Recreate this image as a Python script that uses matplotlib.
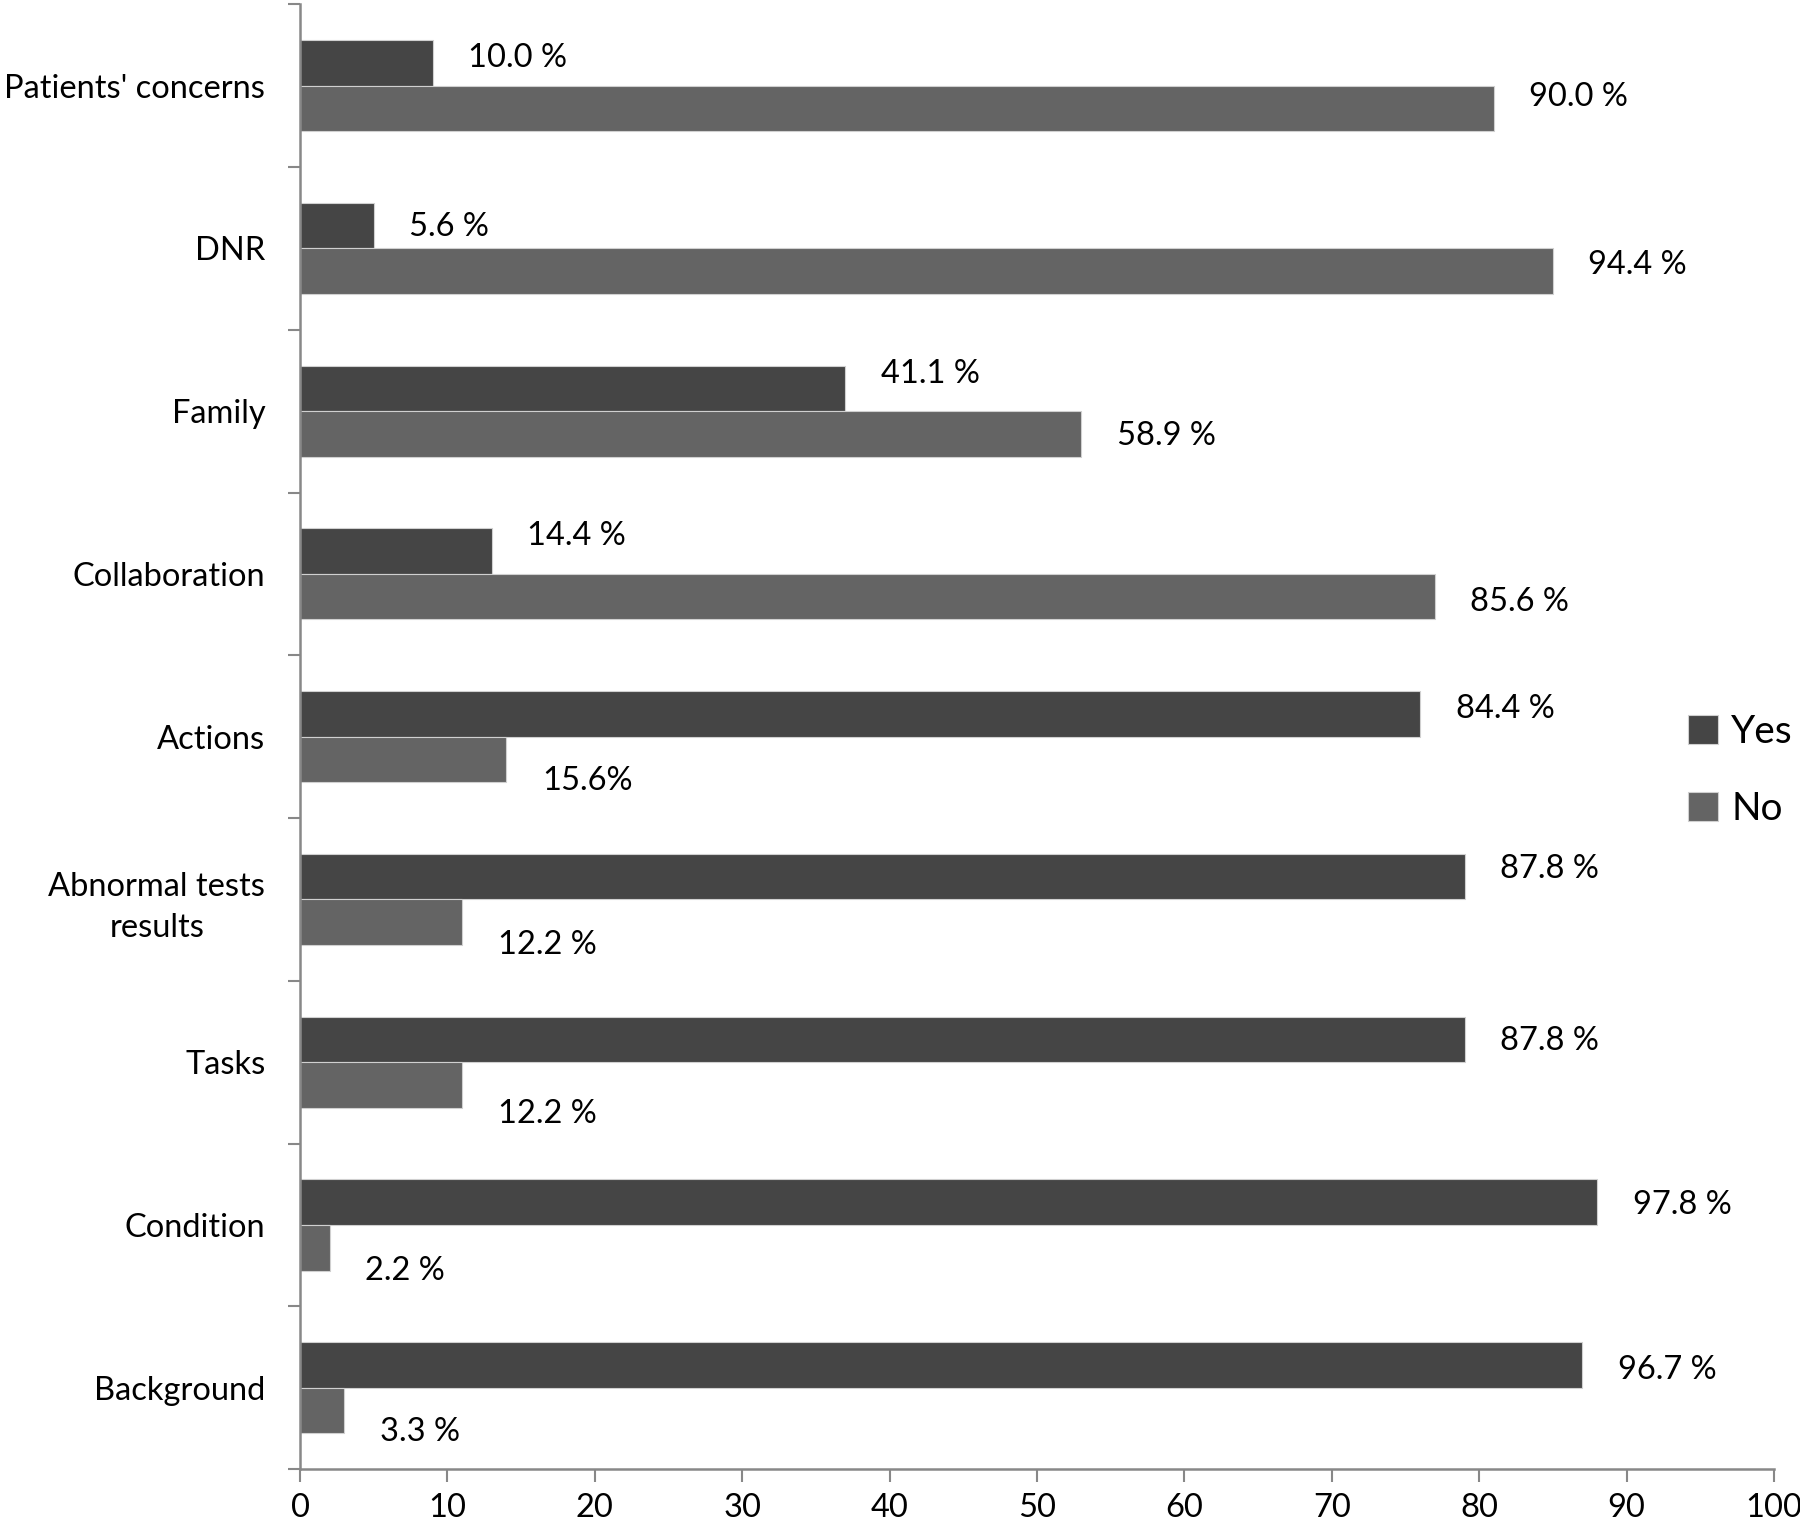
import numpy as np
import matplotlib
matplotlib.use("Agg")
import matplotlib.pyplot as plt

# data (counts out of 90)
categories = ["Patients' concerns", "DNR", "Family", "Collaboration", "Actions",
              "Abnormal tests\nresults", "Tasks", "Condition", "Background"]
yes_vals = [9, 5, 37, 13, 76, 79, 79, 88, 87]
no_vals = [81, 85, 53, 77, 14, 11, 11, 2, 3]
yes_labels = ["10.0 %", "5.6 %", "41.1 %", "14.4 %", "84.4 %", "87.8 %", "87.8 %", "97.8 %", "96.7 %"]
no_labels = ["90.0 %", "94.4 %", "58.9 %", "85.6 %", "15.6%", "12.2 %", "12.2 %", "2.2 %", "3.3 %"]

# label placement tweaks (vertical offset in category units)
yes_dy = [-0.17, -0.13, -0.23, -0.23, -0.17, -0.19, -0.13, -0.12, -0.11]
no_dy = [0.07, 0.10, 0.15, 0.17, 0.27, 0.28, 0.32, 0.28, 0.27]

plt.rcParams['font.family'] = ['Lato', 'DejaVu Sans']
fs = 23.5

fig = plt.figure(figsize=(18, 15.29), dpi=100)
ax = fig.add_axes([0.1667, 0.0392, 0.8189, 0.958])

y = np.arange(len(categories))
h = 0.28
ax.barh(y - h / 2, yes_vals, height=h, color='#454545', edgecolor='#d0d0d0', linewidth=0.8, label='Yes')
ax.barh(y + h / 2, no_vals, height=h, color='#646464', edgecolor='#d0d0d0', linewidth=0.8, label='No')

for i in range(len(categories)):
    ax.text(yes_vals[i] + 2.4, y[i] + yes_dy[i], yes_labels[i], fontsize=fs, va='center', ha='left',
            bbox=dict(facecolor='white', edgecolor='none', pad=3), zorder=3)
    ax.text(no_vals[i] + 2.4, y[i] + no_dy[i], no_labels[i], fontsize=fs, va='center', ha='left')

ax.set_xlim(0, 100)
ax.set_ylim(len(categories) - 0.5, -0.5)
ax.set_xticks(np.arange(0, 101, 10))
ax.set_yticks(y)
ax.set_yticklabels(categories, fontsize=fs, multialignment='center', linespacing=1.45)
ax.set_yticks(np.arange(-0.5, len(categories), 1), minor=True)
ax.tick_params(axis='y', which='major', length=0, pad=25)
ax.tick_params(axis='y', which='minor', length=9, width=1.5, color='#888888', direction='out')
ax.tick_params(axis='x', length=9, width=1.5, color='#888888', labelsize=fs, direction='out', pad=8)

for s in ['top', 'right']:
    ax.spines[s].set_visible(False)
for s in ['left', 'bottom']:
    ax.spines[s].set_color('#888888')
    ax.spines[s].set_linewidth(1.8)

fig.legend(loc='center left', bbox_to_anchor=(0.938, 0.496), frameon=False, fontsize=28,
           handlelength=0.75, handleheight=0.75, handletextpad=0.35, labelspacing=1.05,
           borderaxespad=0, borderpad=0)

fig.savefig("out.png", dpi=100, facecolor='white')
